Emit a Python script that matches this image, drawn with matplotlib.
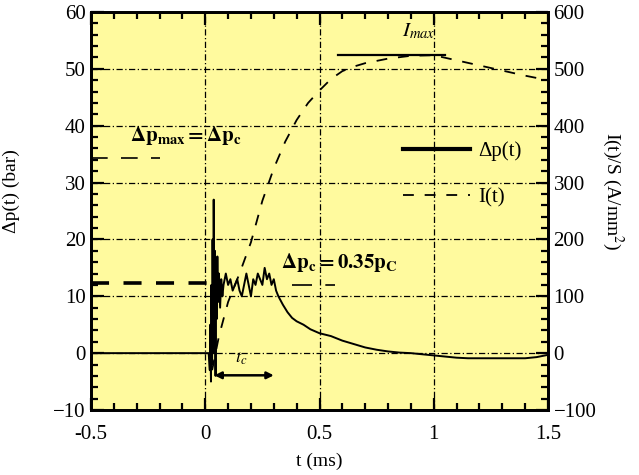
import matplotlib
matplotlib.use("Agg")
import matplotlib.pyplot as plt
from matplotlib.lines import Line2D
from matplotlib.ticker import MultipleLocator

plt.rcParams['font.family'] = ['Liberation Serif', 'DejaVu Serif']
plt.rcParams['mathtext.fontset'] = 'stix'

# ---- data ----
p_t = [-0.5, 0.015, 0.02, 0.022, 0.025, 0.027, 0.03, 0.032, 0.035, 0.037,
       0.04, 0.042, 0.045, 0.047, 0.05, 0.053, 0.056, 0.06, 0.065, 0.07,
       0.075, 0.08, 0.09, 0.1, 0.11, 0.12, 0.13, 0.14, 0.15, 0.16,
       0.17, 0.18, 0.19, 0.2, 0.21, 0.22, 0.23, 0.24, 0.25, 0.26,
       0.27, 0.28, 0.29, 0.3, 0.31, 0.32, 0.34, 0.36, 0.38, 0.4,
       0.43, 0.46, 0.5, 0.55, 0.6, 0.65, 0.7, 0.75, 0.8, 0.85,
       0.9, 0.95, 1.0, 1.05, 1.1, 1.15, 1.2, 1.25, 1.3, 1.35,
       1.4, 1.45, 1.5]
p_val = [0, 0, -3, 5, -5, 12, -2, 20, 0, 27,
         3, 18, -4, 15, 6, 17, 9, 14, 8, 13,
         10, 12, 14, 12, 13, 11, 12, 13, 11, 10,
         12, 14, 12, 10, 13, 12, 14, 13, 12, 15,
         13, 14, 12, 13, 11, 10, 8.5, 7.2, 6.2, 5.6,
         5.0, 4.2, 3.5, 3.0, 2.2, 1.6, 1.0, 0.6, 0.3, 0.1,
         0.0, -0.2, -0.4, -0.6, -0.8, -0.9, -0.9, -0.9, -0.9, -0.9,
         -0.9, -0.7, -0.3]

i_t = [0.03, 0.06, 0.1, 0.15, 0.2, 0.25, 0.3, 0.35, 0.4, 0.45, 0.5, 0.55,
       0.6, 0.65, 0.7, 0.8, 0.9, 1.0, 1.1, 1.2, 1.3, 1.4, 1.5]
i_val = [-30, 30, 90, 140, 195, 268, 325, 372, 410, 440, 462, 482,
         496, 504, 510, 518, 523, 524, 515, 506, 497, 488, 480]

dp_c = 35.0          # critical pressure (bar)
dp_ratio = 0.35      # 0.35 * dp_c
i_max = 525          # A/mm^2
i_max_span = [0.58, 1.05]
tc_span = [0.04, 0.30]

x_ticks = [-0.5, 0, 0.5, 1, 1.5]
x_labels = ['-0.5', '0', '0.5', '1', '1.5']
y_ticks = [-10, 0, 10, 20, 30, 40, 50, 60]
y2_ticks = [-100, 0, 100, 200, 300, 400, 500, 600]

# ---- figure ----
fig = plt.figure(figsize=(6.39, 4.75), dpi=100)
ax = fig.add_axes([91/639, 1-410/475, 457/639, 398/475])
ax.set_facecolor('#FFFA9E')
ax2 = ax.twinx()

grid_ls = (0, (5, 2, 1, 2))
ax.grid(True, color='black', linestyle=grid_ls, linewidth=0.9)
ax.set_axisbelow(True)

ax.plot(p_t, p_val, color='black', lw=1.4, zorder=3)
ax2.plot(i_t, i_val, color='black', lw=1.3, ls=(0, (6, 6)), zorder=3)

# reference levels
ax.plot([-0.5, 0.03], [dp_ratio*dp_c]*2, color='black', lw=2.6, ls=(0, (5, 4)))
ax.plot([0.38, 0.57], [dp_ratio*dp_c-0.3]*2, color='black', lw=1.2, ls=(0, (12, 8)))
ax.plot([-0.5, -0.2], [dp_c-0.6]*2, color='black', lw=1.2, ls=(0, (10, 8)))
ax2.plot(i_max_span, [i_max]*2, color='black', lw=1.6)

ax.set_xlim(-0.5, 1.5)
ax.set_ylim(-10, 60)
ax2.set_ylim(-100, 600)

ax.set_xticks(x_ticks)
ax.set_xticklabels(x_labels)
ax.set_yticks(y_ticks)
ax.xaxis.set_minor_locator(MultipleLocator(0.1))
ax.yaxis.set_minor_locator(MultipleLocator(2))
ax2.set_yticks(y2_ticks)
ax2.yaxis.set_minor_locator(MultipleLocator(20))

ax.tick_params(which='both', direction='in', top=True, right=False, width=1.6, labelsize=15)
ax.tick_params(axis='y', pad=4)
ax.tick_params(axis='x', pad=11)
ax.tick_params(which='major', length=9)
ax.tick_params(which='minor', length=5)
ax2.tick_params(which='both', direction='in', width=1.6, labelsize=15, pad=4)
ax2.tick_params(which='major', length=9)
ax2.tick_params(which='minor', length=5)

for a in (ax, ax2):
    for s in a.spines.values():
        s.set_linewidth(2)

ax.set_xlabel('t (ms)', fontsize=14, labelpad=6)
ax.set_ylabel('Δp(t) (bar)', fontsize=14)
ax.yaxis.set_label_coords(-0.155, 0.55)
ax2.set_ylabel('I(t)/S (A/mm$^2$)', fontsize=14, rotation=270, labelpad=22)
ax2.yaxis.set_label_coords(1.17, 0.55)

# annotations
ax.text(-0.33, 38.3, r'$\mathbf{\Delta p_{max} = \Delta p_{c}}$', fontsize=15, va='center', ha='left')
ax.text(0.33, 16, r'$\mathbf{\Delta p_c = 0.35 p_C}$', fontsize=15, va='center', ha='left')
ax.text(0.86, 56.5, r'$I_{max}$', fontsize=15, va='center', ha='left')
ax.text(0.13, -1.0, r'$t_c$', fontsize=13, va='center', ha='left')
ax.annotate('', xy=(tc_span[1], -3.9), xytext=(tc_span[0], -3.9),
            arrowprops=dict(arrowstyle='<|-|>', color='black', lw=1.8,
                            mutation_scale=10, shrinkA=0, shrinkB=0))

handles = [Line2D([], [], color='black', lw=3),
           Line2D([], [], color='black', lw=1.3, ls=(0, (6, 6)))]
ax.legend(handles, ['Δp(t)', 'I(t)'], loc='upper left', bbox_to_anchor=(0.683, 0.675),
          frameon=False, fontsize=15, handlelength=3.2, handletextpad=0.4,
          labelspacing=1.3, borderpad=0, borderaxespad=0)

fig.savefig('out.png', dpi=100)
